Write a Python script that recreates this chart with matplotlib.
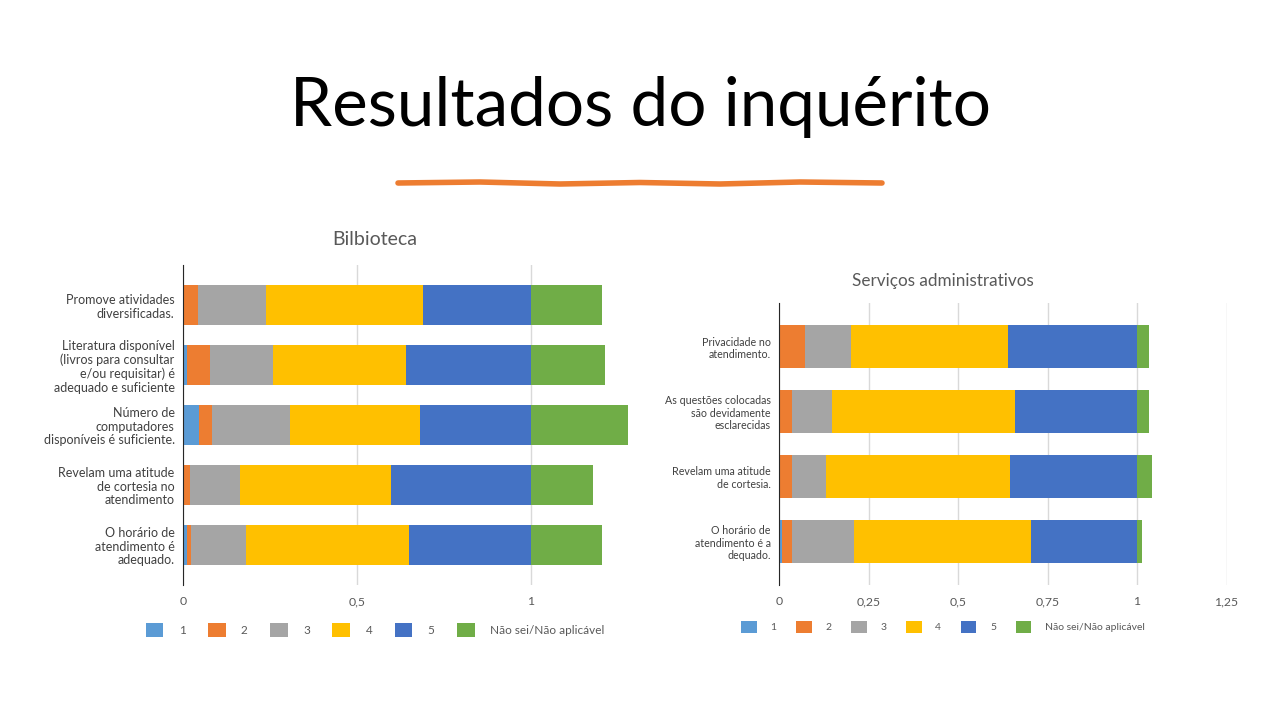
import numpy as np
import matplotlib.pyplot as plt
from matplotlib.patches import Patch

plt.rcParams['font.family'] = ['Lato', 'DejaVu Sans']

# legend / series names
series = ['1', '2', '3', '4', '5', 'Não sei/Não aplicável']
colors = ['#5B9BD5', '#ED7D31', '#A5A5A5', '#FFC000', '#4472C4', '#70AD47']

# Bilbioteca (top row first)
bib_labels = ['Promove atividades\ndiversificadas.',
              'Literatura disponível\n(livros para consultar\ne/ou requisitar) é\nadequado e suficiente',
              'Número de\ncomputadores\ndisponíveis é suficiente.',
              'Revelam uma atitude\nde cortesia no\natendimento',
              'O horário de\natendimento é\nadequado.']
bib_1 = [0.0, 0.012, 0.046, 0.0, 0.012]
bib_2 = [0.044, 0.066, 0.036, 0.021, 0.011]
bib_3 = [0.195, 0.181, 0.225, 0.144, 0.158]
bib_4 = [0.452, 0.381, 0.374, 0.433, 0.468]
bib_5 = [0.309, 0.360, 0.319, 0.402, 0.351]
bib_ns = [0.203, 0.213, 0.278, 0.177, 0.203]

# Serviços administrativos
adm_labels = ['Privacidade no\natendimento.',
              'As questões colocadas\nsão devidamente\nesclarecidas',
              'Revelam uma atitude\nde cortesia.',
              'O horário de\natendimento é a\ndequado.']
adm_1 = [0.0, 0.0, 0.0, 0.009]
adm_2 = [0.072, 0.036, 0.036, 0.028]
adm_3 = [0.130, 0.113, 0.094, 0.173]
adm_4 = [0.439, 0.510, 0.514, 0.494]
adm_5 = [0.359, 0.341, 0.356, 0.296]
adm_ns = [0.033, 0.033, 0.041, 0.013]

W, H = 1280, 720
fig = plt.figure(figsize=(12.8, 7.2), dpi=100)


def px_axes(x0, y0, x1, y1):
    return fig.add_axes([x0 / W, 1 - y1 / H, (x1 - x0) / W, (y1 - y0) / H])


def stacked(ax, labels, data, xmax, ticks, ticklabels, barh, lblsize, pad):
    n = len(labels)
    y = np.arange(n)
    left = np.zeros(n)
    for vals, c in zip(data, colors):
        ax.barh(y, vals, left=left, height=barh, color=c, zorder=3)
        left = left + np.array(vals)
    ax.set_yticks(y)
    ax.set_yticklabels(labels, fontsize=lblsize, color='#404040', linespacing=1.15)
    ax.set_ylim(n - 1 + 0.67, -0.67)
    ax.set_xlim(0, xmax)
    ax.set_xticks(ticks)
    ax.set_xticklabels(ticklabels, fontsize=8.8, color='#595959')
    ax.grid(axis='x', color='#d9d9d9', lw=1, zorder=0)
    for s in ['top', 'right', 'bottom']:
        ax.spines[s].set_visible(False)
    ax.spines['left'].set_color('#262626')
    ax.spines['left'].set_zorder(5)
    ax.tick_params(length=0, pad=pad)
    ax.tick_params(axis='x', pad=8)
    ax.set_facecolor('none')


ax1 = px_axes(183, 265, 183 + 1.3 * 348, 585)
stacked(ax1, bib_labels, [bib_1, bib_2, bib_3, bib_4, bib_5, bib_ns],
        1.3, [0, 0.5, 1], ['0', '0,5', '1'], 0.67, 9.0, 6)

ax2 = px_axes(779, 303, 779 + 1.25 * 358, 585)
stacked(ax2, adm_labels, [adm_1, adm_2, adm_3, adm_4, adm_5, adm_ns],
        1.25, [0, 0.25, 0.5, 0.75, 1, 1.25], ['0', '0,25', '0,5', '0,75', '1', '1,25'],
        0.65, 7.7, 6)

fig.text(375 / W, 1 - 240 / H, 'Bilbioteca', ha='center', va='center',
         fontsize=14, color='#595959')
fig.text(943 / W, 1 - 281 / H, 'Serviços administrativos', ha='center', va='center',
         fontsize=12.3, color='#595959')

handles = [Patch(facecolor=c, label=s) for c, s in zip(colors, series)]
fig.legend(handles=handles, loc='center', bbox_to_anchor=(375 / W, 1 - 630 / H),
           ncol=6, frameon=False, fontsize=8.5, handlelength=1.5, handleheight=1.5,
           columnspacing=1.9, handletextpad=1.3, labelcolor='#595959')
fig.legend(handles=handles, loc='center', bbox_to_anchor=(943 / W, 1 - 627 / H),
           ncol=6, frameon=False, fontsize=7.5, handlelength=1.5, handleheight=1.5,
           columnspacing=1.9, handletextpad=1.3, labelcolor='#595959')

# slide title and orange underline
fig.text(640 / W, 1 - 107 / H, 'Resultados do inquérito', ha='center', va='center',
         fontsize=48.5, color='black')
ux = [398, 480, 560, 640, 720, 800, 882]
uy = [183, 182, 184, 182.5, 184, 182, 183]
fig.add_artist(plt.Line2D([x / W for x in ux], [1 - v / H for v in uy],
                          color='#ED7D31', lw=4, solid_capstyle='round'))

fig.savefig('out.png', dpi=100, facecolor='white')
